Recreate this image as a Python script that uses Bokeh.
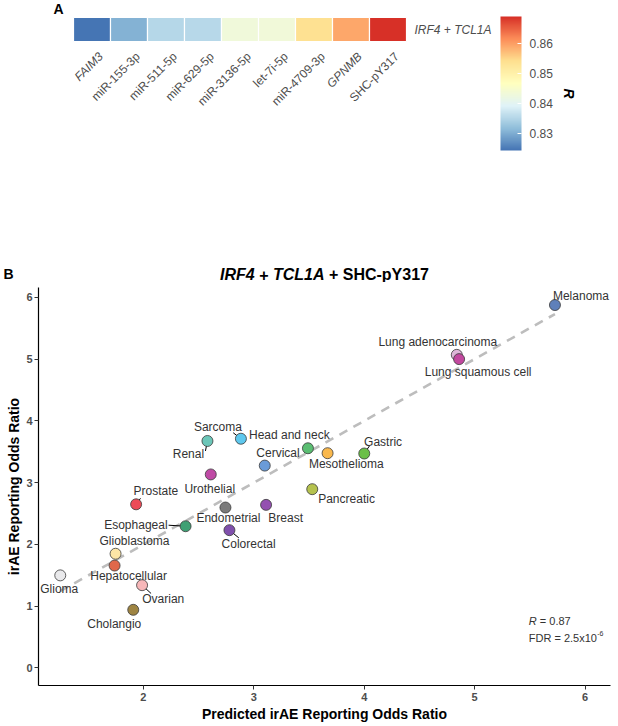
import numpy as np
from bokeh.plotting import figure
from bokeh.models import (Range1d, ColorBar, LinearColorMapper, FixedTicker, ColumnDataSource,
                          Label, PrintfTickFormatter, CustomJSTickFormatter)
from bokeh.layouts import column
from bokeh.core.properties import value
from bokeh.embed import file_html
from bokeh.resources import INLINE

# ---------------- data ----------------
features = ["FAIM3", "miR-155-3p", "miR-511-5p", "miR-629-5p", "miR-3136-5p",
            "let-7i-5p", "miR-4709-3p", "GPNMB", "SHC-pY317"]
feature_italic = [True, False, False, False, False, False, False, True, False]
r_values = [0.8242, 0.8305, 0.8351, 0.8354, 0.8431, 0.8433, 0.8539, 0.8593, 0.8692]
row_label = "IRF4 + TCL1A"
cbar_ticks = [0.83, 0.84, 0.85, 0.86]

cancer_types = ["Melanoma", "Lung adenocarcinoma", "Lung squamous cell", "Sarcoma", "Renal",
                "Head and neck", "Cervical", "Mesothelioma", "Gastric", "Urothelial",
                "Pancreatic", "Prostate", "Endometrial", "Breast", "Esophageal", "Colorectal",
                "Glioblastoma", "Hepatocellular", "Glioma", "Ovarian", "Cholangio"]
predicted_or = [5.727, 4.838, 4.859, 2.883, 2.580, 3.490, 3.099, 3.668, 4.000, 2.610,
                3.529, 1.934, 2.743, 3.111, 2.382, 2.779, 1.748, 1.739, 1.247, 1.988, 1.908]
observed_or = [5.876, 5.069, 5.000, 3.710, 3.674, 3.556, 3.275, 3.476, 3.471, 3.132,
               2.893, 2.648, 2.596, 2.639, 2.293, 2.229, 1.847, 1.656, 1.497, 1.338, 0.939]
point_colors = ["#5F80BA", "#DDB6D8", "#C2489F", "#5EC8EE", "#6CC6B8", "#5BBE72", "#6A9BD8",
                "#F9B84D", "#6BBF48", "#BF4AA5", "#B5C24E", "#EC4B57", "#7A7A7A", "#9450B0",
                "#3FA074", "#8050AC", "#FCE6A6", "#E0684A", "#E9E9EB", "#F7B7B9", "#9E8442"]
x_ticks = [2, 3, 4, 5, 6]
y_ticks = [0, 1, 2, 3, 4, 5, 6]
title_pieces = [("IRF4", True), ("+", False), ("TCL1A", True), ("+ SHC-pY317", False)]
r_text = "= 0.87"
fdr_text = "FDR = 2.5x10"
fdr_exp = "-6"

# ---------------- layout constants (page pixels) ----------------
FONT = "Liberation Sans"
LEFT = 38            # left panel width shared by both figures (frames are aligned)
FW = 572             # frame width
RIGHT = 4
HA = 282             # height of the upper figure
CELL_W, CELL_H = 37, 24
HEAT_X, HEAT_Y = 73, 17   # top-left corner of the heat strip

def ax_(xpx):        # page x -> heat-strip data x
    return (xpx - HEAT_X) / CELL_W

def ay_(ypx):        # page y -> heat-strip data y
    return 1 - (ypx - HEAT_Y) / CELL_H

# label offsets (pixels, right / down) relative to each point
label_off = {
    "Melanoma": (26, -9.5), "Lung adenocarcinoma": (-19, -12.5), "Lung squamous cell": (19, 13.3),
    "Sarcoma": (-23, -12), "Renal": (-19, 13.4), "Head and neck": (-18.6, -13),
    "Cervical": (13.2, -12.6), "Mesothelioma": (18.7, 11), "Gastric": (18.8, -12),
    "Urothelial": (-1, 14.4), "Pancreatic": (34.3, 9.4), "Prostate": (19.7, -13.4),
    "Endometrial": (3, 10.7), "Breast": (19.6, 13.4), "Esophageal": (-49.7, -1),
    "Colorectal": (19.2, 13.7), "Glioblastoma": (18.9, -12.3), "Hepatocellular": (14, 10.7),
    "Glioma": (-1, 14), "Ovarian": (21.2, 14), "Cholangio": (-19, 14),
}
leader_off = {
    "Sarcoma": (-7.7, -6), "Renal": (-2, 10), "Gastric": (5.3, -7.7), "Prostate": (4.4, -6),
    "Esophageal": (-17, -1), "Colorectal": (9.4, 7.7), "Ovarian": (9, 8.3),
}

# ---------------- panel A ----------------
pa = figure(frame_width=FW, frame_height=HA, output_backend="svg", toolbar_location=None,
            x_range=Range1d(ax_(LEFT), ax_(LEFT + FW)),
            y_range=Range1d(ay_(HA), ay_(0)),
            x_axis_location=None, y_axis_location="left",
            min_border_left=LEFT, min_border_right=RIGHT, min_border_top=0, min_border_bottom=0)
pa.grid.visible = False
pa.outline_line_color = None

# panel letter "B" carried by the single tick label of the (otherwise hidden) left axis
pa.yaxis.ticker = FixedTicker(ticks=[ay_(273)])
pa.yaxis.formatter = CustomJSTickFormatter(code="return 'B'")
pa.yaxis.axis_line_color = None
pa.yaxis.major_tick_line_color = None
pa.yaxis.minor_tick_line_color = None
pa.yaxis.major_tick_out = 0
pa.yaxis.major_tick_in = 0
pa.yaxis.minor_tick_out = 0
pa.yaxis.minor_tick_in = 0
pa.yaxis.major_label_standoff = 25
pa.yaxis.major_label_text_font = FONT
pa.yaxis.major_label_text_font_size = "14px"
pa.yaxis.major_label_text_font_style = "bold"
pa.yaxis.major_label_text_color = "black"

anchors = ["#4575B4", "#91BFDB", "#E0F3F8", "#FFFFBF", "#FEE090", "#FC8D59", "#D73027"]
arr = np.array([[int(c[i:i + 2], 16) for i in (1, 3, 5)] for c in anchors], float)
pos = np.linspace(0, 1, len(anchors))
palette = ["#%02x%02x%02x" % tuple(int(round(np.interp(t, pos, arr[:, k]))) for k in range(3))
           for t in np.linspace(0, 1, 256)]
mapper = LinearColorMapper(palette=palette, low=min(r_values), high=max(r_values))

idx = np.arange(len(features))
heat_src = ColumnDataSource(dict(x=idx + 0.5, y=np.full(len(features), 0.5), r=r_values,
                                 name=features))
pa.rect(x="x", y="y", width=1, height=1, source=heat_src,
        fill_color={"field": "r", "transform": mapper}, line_color="white", line_width=1.2)

for italic in (False, True):
    sel = [i for i in range(len(features)) if feature_italic[i] == italic]
    src = ColumnDataSource(dict(x=[i + 0.5 + 4 / CELL_W for i in sel],
                                y=[ay_(49)] * len(sel),
                                t=[features[i] for i in sel]))
    pa.text(x="x", y="y", text="t", source=src, angle=np.pi / 4, text_align="right",
            text_baseline="top", text_font=value(FONT), text_font_size="12px",
            text_color="#4D4D4D", text_font_style="italic" if italic else "normal")

pa.text(x=[len(features) + 8 / CELL_W], y=[0.5], text=[row_label], text_align="left",
        text_baseline="middle", text_font=value(FONT), text_font_size="12px",
        text_color="#4D4D4D", text_font_style="italic")

cb = ColorBar(color_mapper=mapper, ticker=FixedTicker(ticks=cbar_ticks),
              formatter=PrintfTickFormatter(format="%.2f"),
              width=21, height=134, location=(500 - LEFT, HA - 150), padding=0, title=None,
              label_standoff=8, major_label_text_font_size="12px",
              major_label_text_color="#4D4D4D", major_label_text_font=FONT,
              major_tick_line_color="white", major_tick_in=4, major_tick_out=0,
              minor_tick_line_color=None, bar_line_color=None, border_line_color=None,
              background_fill_color=None)
pa.add_layout(cb)

pa.text(x=[ax_(568)], y=[ay_(93)], text=["R"], angle=-np.pi / 2, text_align="center",
        text_baseline="middle", text_font=value(FONT), text_font_size="14px",
        text_font_style="bold italic", text_color="black")
pa.text(x=[ax_(58)], y=[ay_(8.5)], text=["A"], text_align="center",
        text_baseline="middle", text_font=value(FONT), text_font_size="14px",
        text_font_style="bold", text_color="black")

# title of panel B (bold; gene names italic), centred over the lower frame
em = {"I": .278, "R": .722, "F": .611, "4": .556, " ": .278, "+": .584, "T": .611, "C": .722,
      "L": .611, "1": .556, "A": .722, "S": .667, "H": .722, "-": .333, "p": .611, "Y": .667,
      "3": .556, "7": .556}
TS = 16
widths = [sum(em.get(c, .556) for c in s) * TS for s, _ in title_pieces]
gap = em[" "] * TS
total = sum(widths) + gap * (len(title_pieces) - 1)
xcur = LEFT + FW / 2 - total / 2
for (s, it), wpx in zip(title_pieces, widths):
    pa.text(x=[ax_(xcur)], y=[ay_(274)], text=[s], text_align="left", text_baseline="middle",
            text_font=value(FONT), text_font_size=f"{TS}px",
            text_font_style="bold italic" if it else "bold", text_color="black")
    xcur += wpx + gap

# ---------------- panel B ----------------
FH = 398
XR = (1.05, 6.23)
YR = (-0.287, 6.16)
pxu_x = FW / (XR[1] - XR[0])
pxu_y = FH / (YR[1] - YR[0])

pb = figure(frame_width=FW, frame_height=FH, output_backend="svg", toolbar_location=None,
            x_range=Range1d(*XR), y_range=Range1d(*YR),
            min_border_left=LEFT, min_border_right=RIGHT, min_border_top=5, min_border_bottom=0)
pb.grid.visible = False
pb.outline_line_color = None
pb.xaxis.ticker = FixedTicker(ticks=x_ticks)
pb.yaxis.ticker = FixedTicker(ticks=y_ticks)
pb.xaxis.axis_label = "Predicted irAE Reporting Odds Ratio"
pb.yaxis.axis_label = "irAE Reporting Odds Ratio"
for ax in (pb.xaxis, pb.yaxis):
    ax.axis_line_color = "black"
    ax.axis_line_width = 1.2
    ax.major_tick_line_color = "#333333"
    ax.major_tick_out = 4
    ax.major_tick_in = 0
    ax.minor_tick_line_color = None
    ax.minor_tick_out = 0
    ax.minor_tick_in = 0
    ax.major_label_text_font = FONT
    ax.major_label_text_font_size = "11px"
    ax.major_label_text_font_style = "bold"
    ax.major_label_text_color = "#4D4D4D"
    ax.axis_label_text_font = FONT
    ax.axis_label_text_font_size = "14px"
    ax.axis_label_text_font_style = "bold"
    ax.axis_label_text_color = "black"
pb.xaxis.major_label_standoff = 3
pb.yaxis.major_label_standoff = 2
pb.xaxis.axis_label_standoff = 2
pb.yaxis.axis_label_standoff = 1

px = np.array(predicted_or)
py = np.array(observed_or)
slope, intercept = np.polyfit(px, py, 1)
fx = np.array([px.min(), px.max()])
pb.line(fx, slope * fx + intercept, line_color="#BDBDBD", line_width=2.6, line_dash="9 7")

lx0, ly0, lx1, ly1 = [], [], [], []
for name, (dx, dy) in leader_off.items():
    i = cancer_types.index(name)
    lx0.append(px[i] + dx / pxu_x)
    ly0.append(py[i] - dy / pxu_y)
    lx1.append(px[i])
    ly1.append(py[i])
pb.segment(lx0, ly0, lx1, ly1, line_color="black", line_width=1)

pb.scatter(px, py, size=11, fill_color=point_colors, line_color="#3A3A3A", line_width=0.8)

tx = [px[i] + label_off[n][0] / pxu_x for i, n in enumerate(cancer_types)]
ty = [py[i] - label_off[n][1] / pxu_y for i, n in enumerate(cancer_types)]
pb.text(tx, ty, text=cancer_types, text_align="center", text_baseline="middle",
        text_font=value(FONT), text_font_size="12px", text_color="#333333")

ann_x, ann_y1, ann_y2 = 5.49, 0.753, 0.489
pb.add_layout(Label(x=ann_x, y=ann_y1, text="R", text_font=FONT, text_font_size="11px",
                    text_font_style="italic", text_color="#333333", text_baseline="middle"))
pb.add_layout(Label(x=ann_x, y=ann_y1, x_offset=11, text=r_text, text_font=FONT,
                    text_font_size="11px", text_color="#333333", text_baseline="middle"))
pb.add_layout(Label(x=ann_x, y=ann_y2, text=fdr_text, text_font=FONT, text_font_size="11px",
                    text_color="#333333", text_baseline="middle"))
pb.add_layout(Label(x=ann_x, y=ann_y2, x_offset=68.5, y_offset=4, text=fdr_exp, text_font=FONT,
                    text_font_size="7px", text_color="#333333", text_baseline="middle"))

layout = column(pa, pb, spacing=0)
open("out.html", "w").write(file_html(layout, INLINE))
